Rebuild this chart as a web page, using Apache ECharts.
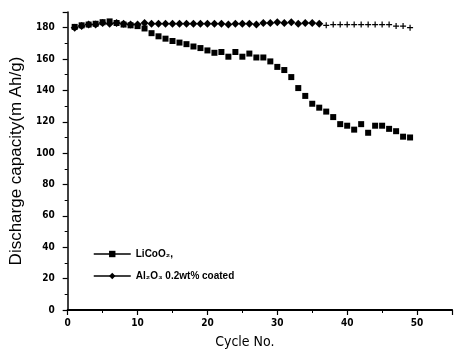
<!DOCTYPE html>
<html>
<head>
<meta charset="utf-8">
<script src="https://cdn.jsdelivr.net/npm/echarts@6/dist/echarts.min.js"></script>
<style>
  html, body { margin: 0; padding: 0; background: #fff; }
  #chart { width: 455px; height: 354px; }
</style>
</head>
<body>
<div id="chart"></div>
<script>
// cycle number
const cycles = [1, 2, 3, 4, 5, 6, 7, 8, 9, 10,
  11, 12, 13, 14, 15, 16, 17, 18, 19, 20,
  21, 22, 23, 24, 25, 26, 27, 28, 29, 30,
  31, 32, 33, 34, 35, 36, 37, 38, 39, 40,
  41, 42, 43, 44, 45, 46, 47, 48, 49];

// LiCoO2 (bare)
const bareCapacity = [180.5, 181.5, 182, 182.5, 183.5, 184, 183, 182, 181.5, 181,
  179.5, 176.5, 174.5, 173, 171.5, 170.5, 169.5, 168, 167, 165.5,
  164, 164.5, 161.5, 164.5, 161.5, 163.5, 161, 161, 158.5, 155,
  153, 148.5, 141.5, 136.5, 131.5, 129, 126.5, 123, 118.5, 117.5,
  115, 118.5, 113, 117.5, 117.5, 115.5, 114, 110.5, 110];

// Al2O3 0.2wt% coated
const coatedCapacity = [180, 181, 182, 182, 183, 182.5, 183, 182.5, 182, 182,
  183, 182.5, 182.5, 182.5, 182.5, 182.5, 182.5, 182.5, 182.5, 182.5,
  182.5, 182.5, 182, 182.5, 182.5, 182.5, 182, 183, 183, 183.5,
  183, 183.5, 182.5, 183, 183, 182.5, 181.5, 182, 182, 182,
  182, 182, 182, 182, 182, 182, 181, 181, 180];

const seriesNames = ['LiCoO\u2082,', 'Al\u2082O\u2083 0.2wt% coated'];

const chart = echarts.init(document.getElementById('chart'), null, { renderer: 'canvas' });

const tickFont = { fontFamily: 'Liberation Sans Narrow, DejaVu Sans Condensed, Liberation Sans', fontWeight: 'bold', fontSize: 10, color: '#000' };
const plusPath = 'path://M4,0H6V4H10V6H6V10H4V6H0V4H4Z';

const option = {
  backgroundColor: '#fff',
  animation: false,
  grid: { left: 63, right: 0, top: 12, bottom: 43, show: false },
  legend: {
    orient: 'vertical',
    left: 88,
    top: 244,
    itemWidth: 37,
    itemHeight: 8,
    itemGap: 12,
    data: seriesNames,
    lineStyle: { color: '#000', width: 1.5, opacity: 1 },
    textStyle: { fontFamily: 'Liberation Sans', fontWeight: 'bold', fontSize: 10, color: '#000' }
  },
  xAxis: [{
    type: 'value',
    min: 0,
    max: 55,
    interval: 10,
    name: 'Cycle No.',
    nameLocation: 'middle',
    nameGap: 25,
    nameTextStyle: { fontFamily: 'Liberation Sans Narrow, DejaVu Sans Condensed, Liberation Sans', fontSize: 14, color: '#000', padding: [0, 30, 0, 0] },
    axisLine: { show: true, onZero: false, lineStyle: { color: '#000', width: 1.5 } },
    axisTick: { show: true, length: 5, lineStyle: { color: '#000', width: 1.2 } },
    minorTick: { show: true, splitNumber: 2, length: 3, lineStyle: { color: '#000' } },
    splitLine: { show: false },
    axisLabel: Object.assign({ margin: 8, formatter: v => (v % 10 === 0 ? String(v) : '') }, tickFont)
  }, {
    type: 'value',
    position: 'top',
    min: 0,
    max: 55,
    axisLine: { show: true, lineStyle: { color: '#000', width: 2 } },
    axisTick: { show: false },
    axisLabel: { show: false },
    splitLine: { show: false }
  }],
  yAxis: {
    type: 'value',
    min: 0,
    max: 190,
    interval: 20,
    name: 'Discharge capacity(m Ah/g)',
    nameLocation: 'middle',
    nameGap: 40,
    nameTextStyle: { fontFamily: 'Liberation Sans', fontSize: 17, color: '#000' },
    axisLine: { show: true, lineStyle: { color: '#000', width: 1.5 } },
    axisTick: { show: true, length: 5, lineStyle: { color: '#000', width: 1.2 } },
    minorTick: { show: true, splitNumber: 2, length: 3, lineStyle: { color: '#000' } },
    splitLine: { show: false },
    axisLabel: Object.assign({ margin: 13, formatter: v => (v % 20 === 0 && v < 190 ? String(v) : '') }, tickFont)
  },
  series: [
    {
      name: seriesNames[0],
      type: 'line',
      symbol: 'rect',
      symbolSize: 6,
      itemStyle: { color: '#000' },
      lineStyle: { width: 0, opacity: 0 },
      data: cycles.map((c, i) => [c, bareCapacity[i]])
    },
    {
      name: seriesNames[1],
      type: 'line',
      symbol: 'diamond',
      symbolSize: 8,
      itemStyle: { color: '#000' },
      lineStyle: { width: 0, opacity: 0 },
      data: cycles.map((c, i) => (c >= 37
        ? { value: [c, coatedCapacity[i]], symbol: plusPath, symbolSize: 6 }
        : [c, coatedCapacity[i]]))
    }
  ]
};

chart.setOption(option);
</script>
</body>
</html>
